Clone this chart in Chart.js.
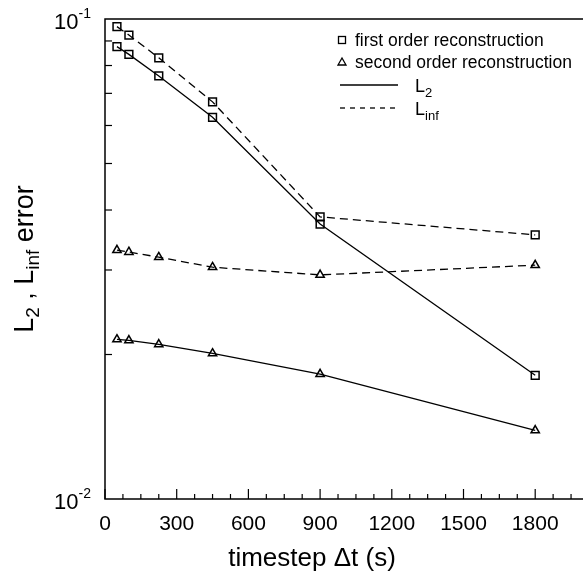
<!DOCTYPE html>
<html>
<head>
<meta charset="utf-8">
<script src="https://cdn.jsdelivr.net/npm/chart.js@4"></script>
<style>
html, body { margin: 0; padding: 0; background: #fff; overflow: hidden; }
canvas { display: block; }
</style>
</head>
<body>
<canvas id="errorChart" width="590" height="578"></canvas>
<script>
'use strict';

// 데이터
const timesteps = [50, 100, 225, 450, 900, 1800];
const firstL2 = [0.0876, 0.0844, 0.0761, 0.0624, 0.0374, 0.0181];
const firstLinf = [0.0964, 0.0926, 0.0830, 0.0672, 0.0387, 0.0355];
const secondL2 = [0.0215, 0.0214, 0.0210, 0.0201, 0.0182, 0.0139];
const secondLinf = [0.0330, 0.0327, 0.0319, 0.0304, 0.0293, 0.0307];

// 축 눈금
const xTicks = [0, 300, 600, 900, 1200, 1500, 1800];
const xMinorStep = 75;
const yTicks = [0.01, 0.1];
const yTickExp = ['-2', '-1'];
const yMinorTicks = [0.02, 0.03, 0.04, 0.05, 0.06, 0.07, 0.08, 0.09];

const FONT = '"Liberation Sans", Arial, sans-serif';

function toPoints(values) {
	return timesteps.map((t, i) => ({ x: t, y: values[i] }));
}

function makeDataset(label, values, style, dashed) {
	return {
		label: label,
		data: toPoints(values),
		borderColor: '#000',
		borderWidth: 1.3,
		borderDash: dashed ? [8, 5] : [],
		pointStyle: style,
		pointRadius: style === 'rect' ? 5.5 : 4.8,
		pointBorderWidth: 1.5,
		pointBorderColor: '#000',
		pointBackgroundColor: 'rgba(0,0,0,0)',
		fill: false,
		tension: 0
	};
}

// 글자 + 첨자 그리기
function drawPieces(ctx, pieces, x, y) {
	let cx = x;
	pieces.forEach(p => {
		ctx.font = p.size + 'px ' + FONT;
		ctx.fillText(p.text, cx, y + (p.dy || 0));
		cx += ctx.measureText(p.text).width;
	});
	return cx;
}

function piecesWidth(ctx, pieces) {
	let w = 0;
	pieces.forEach(p => {
		ctx.font = p.size + 'px ' + FONT;
		w += ctx.measureText(p.text).width;
	});
	return w;
}

// 축, 눈금, 범례, 제목
const axisPlugin = {
	id: 'axisPlugin',
	afterDraw(chart) {
		const ctx = chart.ctx;
		const area = chart.chartArea;
		const xs = chart.scales.x;
		const ys = chart.scales.y;
		ctx.save();
		ctx.strokeStyle = '#000';
		ctx.fillStyle = '#000';
		ctx.lineWidth = 1.5;
		ctx.setLineDash([]);

		// 테두리
		ctx.beginPath();
		ctx.moveTo(area.right, area.top);
		ctx.lineTo(area.left, area.top);
		ctx.lineTo(area.left, area.bottom);
		ctx.lineTo(area.right, area.bottom);
		ctx.stroke();

		// x 눈금
		ctx.lineWidth = 1.2;
		for (let v = 0; v <= xs.max; v += xMinorStep) {
			const px = xs.getPixelForValue(v);
			const len = xTicks.includes(v) ? 10 : 5;
			ctx.beginPath();
			ctx.moveTo(px, area.bottom);
			ctx.lineTo(px, area.bottom - len);
			ctx.stroke();
		}
		ctx.font = '21px ' + FONT;
		ctx.textAlign = 'center';
		ctx.textBaseline = 'alphabetic';
		xTicks.forEach(v => {
			ctx.fillText(String(v), xs.getPixelForValue(v), area.bottom + 31);
		});

		// y 눈금
		yMinorTicks.forEach(v => {
			const py = ys.getPixelForValue(v);
			ctx.beginPath();
			ctx.moveTo(area.left, py);
			ctx.lineTo(area.left + 7, py);
			ctx.stroke();
		});
		ctx.textAlign = 'left';
		yTicks.forEach((v, i) => {
			const py = ys.getPixelForValue(v);
			const pieces = [
				{ text: '10', size: 22 },
				{ text: yTickExp[i], size: 14, dy: -11 }
			];
			const w = piecesWidth(ctx, pieces);
			drawPieces(ctx, pieces, area.left - 14 - w, py + 10);
		});

		// x 제목
		const xTitle = [{ text: 'timestep \u0394t (s)', size: 26 }];
		drawPieces(ctx, xTitle, 312 - piecesWidth(ctx, xTitle) / 2, 566);

		// y 제목
		const yTitle = [
			{ text: 'L', size: 27 },
			{ text: '2', size: 19, dy: 6 },
			{ text: ' , L', size: 27 },
			{ text: 'inf', size: 19, dy: 6 },
			{ text: ' error', size: 27 }
		];
		ctx.save();
		ctx.translate(33, (area.top + area.bottom) / 2);
		ctx.rotate(-Math.PI / 2);
		drawPieces(ctx, yTitle, -piecesWidth(ctx, yTitle) / 2, 0);
		ctx.restore();

		// 범례
		ctx.lineWidth = 1.3;
		ctx.strokeRect(338.5, 36.5, 7, 7);
		ctx.beginPath();
		ctx.moveTo(342, 58);
		ctx.lineTo(346, 65);
		ctx.lineTo(338, 65);
		ctx.closePath();
		ctx.stroke();
		ctx.beginPath();
		ctx.moveTo(340, 85);
		ctx.lineTo(398, 85);
		ctx.stroke();
		ctx.setLineDash([5, 5]);
		ctx.beginPath();
		ctx.moveTo(340, 108);
		ctx.lineTo(398, 108);
		ctx.stroke();
		ctx.setLineDash([]);
		drawPieces(ctx, [{ text: 'first order reconstruction', size: 17.5 }], 355, 46);
		drawPieces(ctx, [{ text: 'second order reconstruction', size: 17.5 }], 355, 68);
		drawPieces(ctx, [{ text: 'L', size: 18 }, { text: '2', size: 13, dy: 5 }], 415, 92);
		drawPieces(ctx, [{ text: 'L', size: 18 }, { text: 'inf', size: 13, dy: 5 }], 415, 115);

		ctx.restore();
	}
};

const error_chart = document.getElementById('errorChart');
new Chart(error_chart, {
	type: 'line',
	data: {
		datasets: [
			makeDataset('first order L2', firstL2, 'rect', false),
			makeDataset('first order Linf', firstLinf, 'rect', true),
			makeDataset('second order L2', secondL2, 'triangle', false),
			makeDataset('second order Linf', secondLinf, 'triangle', true)
		]
	},
	options: {
		responsive: false,
		animation: false,
		layout: {
			padding: { left: 105, top: 19, right: 5, bottom: 79 }
		},
		plugins: {
			legend: { display: false },
			tooltip: { enabled: false }
		},
		scales: {
			x: { type: 'linear', min: 0, max: 2000, display: false },
			y: { type: 'logarithmic', min: 0.01, max: 0.1, display: false }
		}
	},
	plugins: [axisPlugin]
});
</script>
</body>
</html>
